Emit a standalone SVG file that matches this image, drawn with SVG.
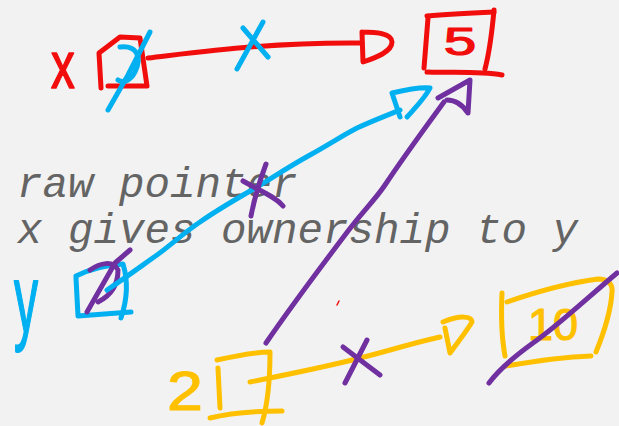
<svg xmlns="http://www.w3.org/2000/svg" width="619" height="426" viewBox="0 0 619 426">
  <style>
    .ink { fill: none; stroke-width: 5; stroke-linecap: round; stroke-linejoin: round; }
    .red { stroke: #f20d0d; }
    .blue { stroke: #00b0f0; }
    .purple { stroke: #7030a0; }
    .yellow { stroke: #ffc000; }
    .hand { font-family: "Liberation Sans", Arial, sans-serif; text-anchor: middle; stroke-width: 1.2; stroke-linejoin: round; }
    .note { font-family: "Liberation Mono", "Courier New", monospace; font-style: italic; font-size: 42.5px; fill: #646464; }
  </style>
  <rect width="619" height="426" fill="#f2f2f2"/>

  <!-- typed caption -->
  <g id="caption">
    <text class="note" x="17" y="197">raw pointer</text>
    <text class="note" x="17" y="243">x gives ownership to y</text>
  </g>

  <!-- pointer x -->
  <g id="node-x">
    <text class="hand" font-size="50" fill="#f20d0d" stroke="#f20d0d" transform="translate(63,88) scale(0.95,1.35)">x</text>
    <path class="ink red" d="M101,88 L99,53 L120,37 L140,38 L147,86 L108,86"/>
    <path class="ink blue" d="M150,32 L128,75 L108,110"/>
    <path class="ink blue" d="M120,47 C135,45 143,55 135,72 C130,82 122,83 118,80"/>
  </g>

  <!-- value 5 -->
  <g id="node-5">
    <path class="ink red" d="M428,18 L424,68"/>
    <path class="ink red" d="M427,16 C450,14 472,13 494,12"/>
    <path class="ink red" d="M494,10 C492,32 490,50 485,69"/>
    <path class="ink red" d="M427,72 C455,73 480,71 502,75"/>
    <text class="hand" font-size="39" fill="#f20d0d" stroke="#f20d0d" transform="translate(460,55) scale(1.5,1)">5</text>
  </g>

  <!-- pointer y -->
  <g id="node-y">
    <text class="hand" font-size="60" fill="#00b0f0" stroke="#00b0f0" transform="translate(26,332) scale(0.8,1.6)">y</text>
    <path class="ink blue" d="M76,278 L78,316 L131,312"/>
    <path class="ink blue" d="M76,276 C90,269 108,265 123,264 C128,280 127,300 121,318"/>
    <path class="ink purple" d="M87,312 L115,263 L130,250"/>
    <path class="ink purple" d="M90,270 C100,263 113,260 118,270 C118,285 112,295 98,302"/>
  </g>

  <!-- pointer z -->
  <g id="node-z">
    <text class="hand" font-size="56" fill="#ffc000" stroke="#ffc000" transform="translate(185,410) scale(1.15,1)">2</text>
    <path class="ink yellow" d="M218,368 L220,408"/>
    <path class="ink yellow" d="M217,360 C235,356 255,352 270,352 C270,375 269,400 262,423"/>
    <path class="ink yellow" d="M210,418 C230,413 260,411 282,411"/>
  </g>

  <!-- value 10 -->
  <g id="node-10">
    <path class="ink yellow" d="M502,293 C501,315 502,340 505,356"/>
    <path class="ink yellow" d="M507,302 C530,294 560,284 598,279 C608,279 613,284 612,292 C611,310 605,330 596,352"/>
    <path class="ink yellow" d="M506,366 C535,361 565,357 591,356"/>
    <text class="hand" font-size="45" fill="#ffc000" stroke="#ffc000" x="553" y="340">10</text>
    <path class="ink purple" d="M489,383 C500,368 515,356 533,343 C555,328 585,300 617,273"/>
  </g>

  <!-- connectors -->
  <g id="connectors">
    <!-- x -> 5 -->
    <path class="ink red" d="M148,58 C200,52 270,42 362,43"/>
    <path class="ink red" d="M362,32 L363,62 C375,58 392,52 392,42 C392,33 375,32 362,32"/>
    <path class="ink blue" d="M243,28 L268,57"/>
    <path class="ink blue" d="M263,22 L237,69"/>

    <!-- y -> 5 -->
    <path class="ink blue" d="M107,290 C125,278 140,267 157,255 C172,244 185,232 200,222 C220,208 238,198 257,187 C275,176 290,166 310,155 C330,144 345,134 357,128 C372,121 385,116 400,110"/>
    <path class="ink blue" d="M400,117 L392,93 C405,90 420,87 430,88 C425,98 415,108 407,117"/>
    <path class="ink purple" d="M266,164 C260,180 254,200 251,216"/>
    <path class="ink purple" d="M243,181 C258,190 275,196 283,206"/>

    <!-- z -> 5 -->
    <path class="ink purple" d="M266,343 C290,308 320,268 345,235 C362,212 375,200 385,185 C405,155 425,128 444,102"/>
    <path class="ink purple" d="M438,98 L470,80 L468,113 C462,104 455,100 447,100"/>

    <!-- z -> 10 -->
    <path class="ink yellow" d="M250,382 C290,374 330,366 360,358 C385,352 405,345 440,337"/>
    <path class="ink yellow" d="M445,328 L450,353 C458,342 466,332 472,322 C472,316 460,315 443,322"/>
    <path class="ink purple" d="M345,383 L367,340"/>
    <path class="ink purple" d="M343,347 L380,375"/>

    <!-- stray mark -->
    <path d="M337,305 L339,301" stroke="#f20d0d" stroke-width="1.5" stroke-linecap="round"/>
  </g>
</svg>
